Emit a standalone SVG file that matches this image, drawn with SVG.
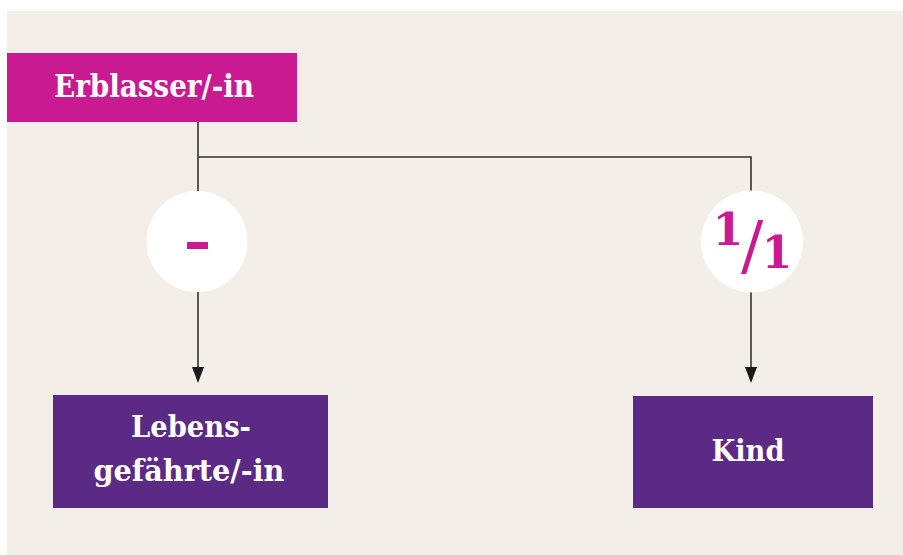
<svg xmlns="http://www.w3.org/2000/svg" width="903" height="555" viewBox="0 0 903 555">
<defs>
<style>
.bg{fill:#F3EEE7}
.top{fill:#C91A92}
.leaf{fill:#5B2A84}
.lbl{font-family:"DejaVu Serif","Liberation Serif",serif;font-weight:bold;fill:#fff;text-anchor:middle}
.frac{font-family:"DejaVu Serif","Liberation Serif",serif;font-weight:bold;fill:#C91A92;text-anchor:middle}
.conn{stroke:#333;stroke-width:1.6;fill:none}
.circ{fill:#fff}
</style>
</defs>
<rect class="bg" x="7" y="11" width="896" height="544"/>
<g id="connectors">
<path class="conn" d="M198,122 V191"/>
<path class="conn" d="M198,157 H751 V191"/>
<path class="conn" d="M198,292 V367"/>
<path class="conn" d="M751,292 V367"/>
<path d="M192,367 L204,367 L198,383 Z" fill="#1a1a1a"/>
<path d="M745,367 L757,367 L751,383 Z" fill="#1a1a1a"/>
</g>
<g id="erblasser">
<rect class="top" x="7" y="53" width="290" height="69"/>
<text class="lbl" x="154" y="97" font-size="31" textLength="200" lengthAdjust="spacingAndGlyphs">Erblasser/-in</text>
</g>
<g id="share-partner">
<circle class="circ" cx="197" cy="241.5" r="50.5"/>
<rect class="top" x="187" y="242" width="21" height="7"/>
</g>
<g id="share-kind">
<circle class="circ" cx="752" cy="241.5" r="51"/>
<text class="frac"><tspan x="728" y="245" font-size="44">1</tspan><tspan x="752" y="268" font-size="66" font-weight="normal">/</tspan><tspan x="777" y="268" font-size="44">1</tspan></text>
</g>
<g id="partner">
<rect class="leaf" x="53" y="395" width="275" height="113"/>
<text class="lbl" x="191" y="437" font-size="30" textLength="120" lengthAdjust="spacingAndGlyphs">Lebens-</text>
<text class="lbl" x="189" y="481" font-size="30" textLength="191" lengthAdjust="spacingAndGlyphs">gefährte/-in</text>
</g>
<g id="kind">
<rect class="leaf" x="633" y="396" width="240" height="112"/>
<text class="lbl" x="748" y="461" font-size="30" textLength="73" lengthAdjust="spacingAndGlyphs">Kind</text>
</g>
</svg>
